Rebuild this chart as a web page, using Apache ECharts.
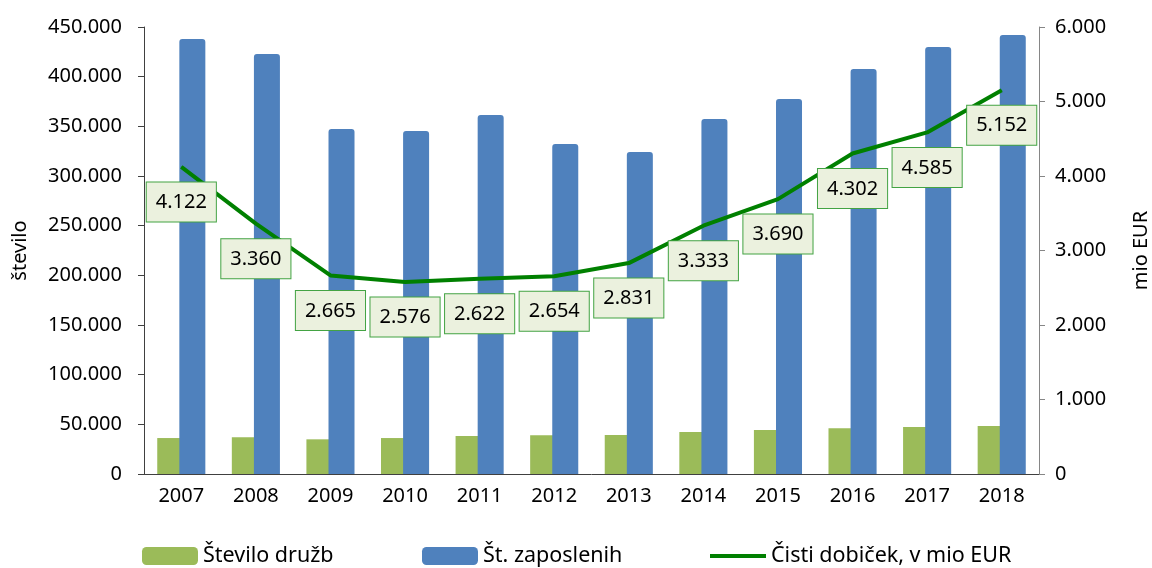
<!DOCTYPE html>
<html>
<head>
<meta charset="utf-8">
<style>
  html, body { margin: 0; padding: 0; background: #fff; }
  #main { width: 1152px; height: 568px; }
</style>
<script src="https://cdn.jsdelivr.net/npm/echarts@6/dist/echarts.min.js"></script>
</head>
<body>
<div id="main"></div>
<script>
var years = ['2007', '2008', '2009', '2010', '2011', '2012', '2013', '2014', '2015', '2016', '2017', '2018'];
var steviloDruzb = [36200, 37000, 34900, 36200, 38300, 39000, 39300, 42300, 44300, 46000, 47300, 48300];
var stZaposlenih = [437900, 422800, 347300, 345300, 361400, 332200, 324200, 357400, 377500, 407700, 429900, 442000];
var cistiDobicek = [4122, 3360, 2665, 2576, 2622, 2654, 2831, 3333, 3690, 4302, 4585, 5152];

var fmt = function (v) {
    return String(v).replace(/\B(?=(\d{3})+(?!\d))/g, '.');
};

var chartDom = document.getElementById('main');
var myChart = echarts.init(chartDom);
var font = 'Noto Sans';
var legendText = { fontFamily: font, fontSize: 21.5, color: '#000' };
var option;

option = {
    textStyle: { fontFamily: font },
    grid: {
        left: 144,
        right: 113,
        top: 27,
        bottom: 94,
        outerBoundsMode: 'none'
    },
    legend: [
        {
            left: 137, bottom: -4,
            itemWidth: 56, itemHeight: 18, itemGap: 8,
            textStyle: legendText,
            data: ['Število družb']
        },
        {
            left: 417, bottom: -4,
            itemWidth: 56, itemHeight: 18,
            textStyle: legendText,
            data: ['Št. zaposlenih']
        },
        {
            left: 705, bottom: -4,
            itemWidth: 56, itemHeight: 18,
            textStyle: legendText,
            data: [{ name: 'Čisti dobiček, v mio EUR', icon: 'path://M0,7 L56,7 L56,11 L0,11 Z' }]
        }
    ],
    xAxis: {
        type: 'category',
        data: years,
        axisLine: { lineStyle: { color: '#404040', width: 1 } },
        axisTick: { length: 8, lineStyle: { color: '#404040' } },
        axisLabel: { color: '#000', fontSize: 20, margin: 12 }
    },
    yAxis: [
        {
            type: 'value',
            min: 0,
            max: 450000,
            interval: 50000,
            name: 'število',
            nameLocation: 'middle',
            nameRotate: 90,
            nameGap: 114,
            nameTextStyle: { color: '#000', fontSize: 20 },
            splitLine: { show: false },
            axisLine: { show: true, lineStyle: { color: '#404040' } },
            axisTick: { show: true, length: 6, lineStyle: { color: '#404040' } },
            axisLabel: { color: '#000', fontSize: 20, margin: 22, formatter: fmt }
        },
        {
            type: 'value',
            min: 0,
            max: 6000,
            interval: 1000,
            name: 'mio EUR',
            nameLocation: 'middle',
            nameRotate: 90,
            nameGap: 92,
            nameTextStyle: { color: '#000', fontSize: 20 },
            splitLine: { show: false },
            axisLine: { show: true, lineStyle: { color: '#868686' } },
            axisTick: { show: true, length: 6, lineStyle: { color: '#868686' } },
            axisLabel: { color: '#000', fontSize: 20, margin: 16, formatter: fmt }
        }
    ],
    series: [
        {
            name: 'Število družb',
            type: 'bar',
            yAxisIndex: 0,
            barWidth: 26,
            barGap: '-15%',
            itemStyle: { color: '#9BBB59' },
            data: steviloDruzb
        },
        {
            name: 'Št. zaposlenih',
            type: 'bar',
            yAxisIndex: 0,
            barWidth: 26,
            itemStyle: { color: '#4F81BD', borderRadius: [3, 3, 0, 0] },
            data: stZaposlenih
        },
        {
            name: 'Čisti dobiček, v mio EUR',
            type: 'line',
            yAxisIndex: 1,
            symbol: 'circle',
            symbolSize: 1,
            showSymbol: true,
            lineStyle: { color: '#008000', width: 4 },
            itemStyle: { color: '#008000' },
            label: {
                show: true,
                position: 'bottom',
                distance: 15,
                formatter: function (p) { return fmt(p.value); },
                color: '#000',
                fontSize: 20,
                lineHeight: 22,
                backgroundColor: '#EBF1DE',
                borderColor: '#43A343',
                borderWidth: 1,
                padding: [9, 9, 8, 9]
            },
            labelLayout: { hideOverlap: false },
            data: cistiDobicek
        }
    ]
};

option && myChart.setOption(option);
</script>
</body>
</html>
